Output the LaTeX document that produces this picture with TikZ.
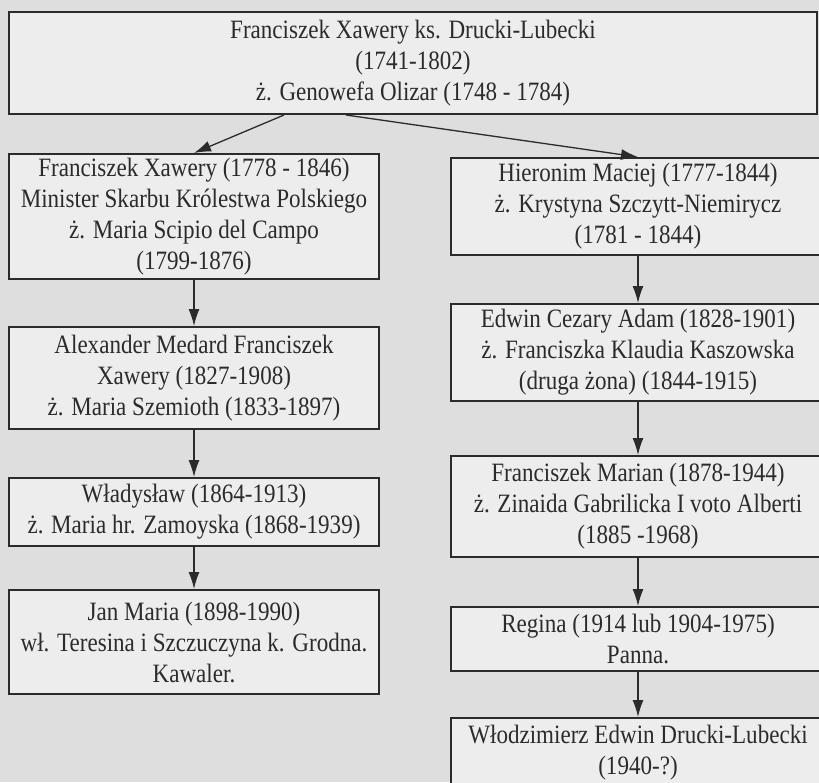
\documentclass[tikz,border=0pt]{standalone}
\usepackage{fontspec}
\setmainfont{Liberation Serif}[FakeStretch=0.87]
\usetikzlibrary{arrows.meta}
\definecolor{kartka}{gray}{0.87}
\definecolor{pole}{gray}{0.93}
\definecolor{tusz}{gray}{0.17}
\begin{document}
\begin{tikzpicture}[x=1pt, y=-1pt,
  every node/.style = {font=\fontsize{26.5}{31}\selectfont, text=tusz},
  osoba/.style = {shape=rectangle, draw=tusz, line width=2pt,
    fill=pole, align=center, anchor=north west, inner sep=0pt},
  strzalka/.style = {-{Latex[length=17pt,width=11pt]}, draw=tusz, line width=1.3pt}]
  \clip (0,0) rectangle (819,782);
  \fill[kartka] (0,0) rectangle (819,782);
  % protoplasta
  \node[osoba, minimum width=808pt, minimum height=102pt] (franciszek) at (8,11)
    {Franciszek Xawery ks. Drucki-Lubecki\\(1741-1802)\\ż. Genowefa Olizar (1748 - 1784)};
  % linia lewa
  \node[osoba, minimum width=370pt, minimum height=125pt] (minister) at (8,153)
    {Franciszek Xawery (1778 - 1846)\\Minister Skarbu Królestwa Polskiego\\ż. Maria Scipio del Campo\\(1799-1876)};
  \node[osoba, minimum width=370pt, minimum height=102pt] (aleksander) at (8,326)
    {Alexander Medard Franciszek\\Xawery (1827-1908)\\ż. Maria Szemioth (1833-1897)};
  \node[osoba, minimum width=370pt, minimum height=68pt] (wladyslaw) at (8,477)
    {Władysław (1864-1913)\\ż. Maria hr. Zamoyska (1868-1939)};
  \node[osoba, minimum width=370pt, minimum height=104pt] (jan) at (8,589)
    {Jan Maria (1898-1990)\\wł. Teresina i Szczuczyna k. Grodna.\\Kawaler.};
  % linia prawa
  \node[osoba, minimum width=374pt, minimum height=97pt] (hieronim) at (450,157)
    {Hieronim Maciej (1777-1844)\\ż. Krystyna Szczytt-Niemirycz\\(1781 - 1844)};
  \node[osoba, minimum width=374pt, minimum height=97pt] (edwin) at (450,303)
    {Edwin Cezary Adam (1828-1901)\\ż. Franciszka Klaudia Kaszowska\\(druga żona) (1844-1915)};
  \node[osoba, minimum width=374pt, minimum height=101pt] (marian) at (450,455)
    {Franciszek Marian (1878-1944)\\ż. Zinaida Gabrilicka I voto Alberti\\(1885 -1968)};
  \node[osoba, minimum width=374pt, minimum height=64pt] (regina) at (450,606)
    {Regina (1914 lub 1904-1975)\\Panna.};
  \node[osoba, minimum width=374pt, minimum height=70pt] (wlodzimierz) at (450,717)
    {Włodzimierz Edwin Drucki-Lubecki\\(1940-?)};
  % strzałki
  \draw[strzalka] ([xshift=-129pt]franciszek.south) -- (minister.north);
  \draw[strzalka] ([xshift=-67pt]franciszek.south) -- (hieronim.north);
  \draw[strzalka] (minister) -- (aleksander);
  \draw[strzalka] (aleksander) -- (wladyslaw);
  \draw[strzalka] (wladyslaw) -- (jan);
  \draw[strzalka] (hieronim) -- (edwin);
  \draw[strzalka] (edwin) -- (marian);
  \draw[strzalka] (marian) -- (regina);
  \draw[strzalka] (regina) -- (wlodzimierz);
\end{tikzpicture}
\end{document}
